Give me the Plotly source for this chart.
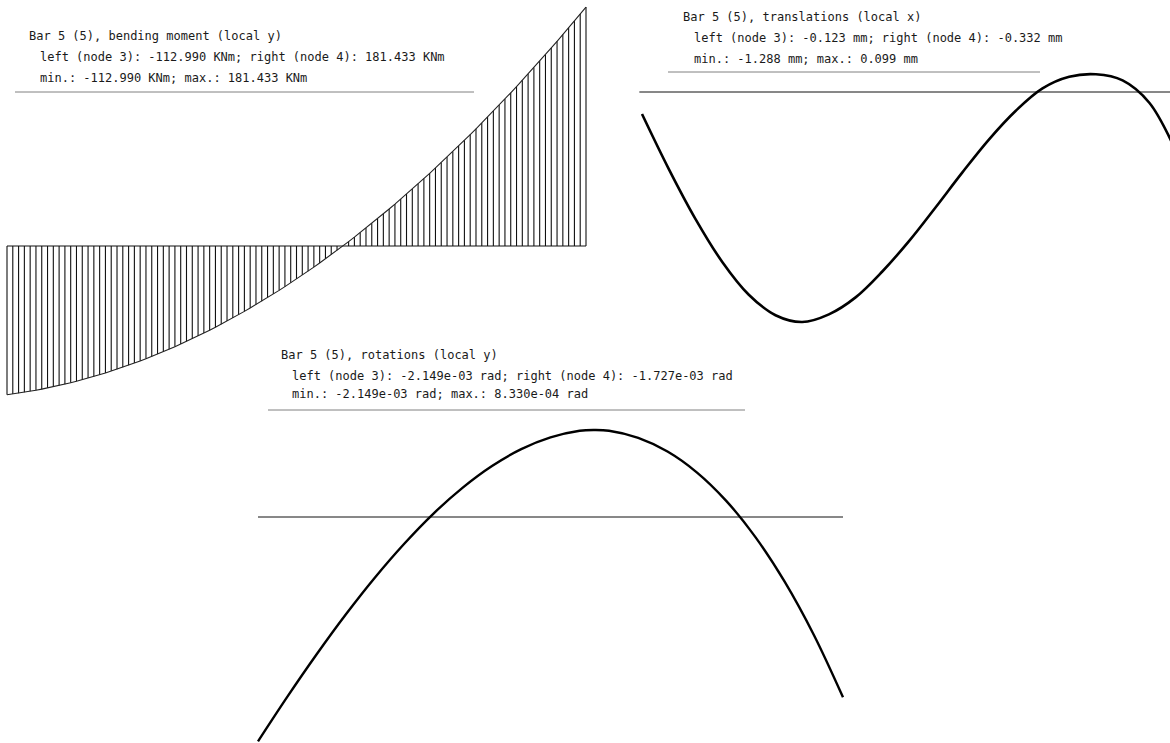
import plotly.graph_objects as go

W, H = 1170, 743

# ---- Bar 5: bending moment (local y), KNm at 101 equally spaced stations ----
moment_stations = [i / 100 for i in range(101)]
moment_values = [
    -112.99, -112.39, -111.75, -111.06, -110.32, -109.53, -108.70, -107.82, -106.89, -105.91,
    -104.89, -103.82, -102.70, -101.53, -100.32, -99.06, -97.75, -96.40, -94.99, -93.54,
    -92.05, -90.50, -88.91, -87.27, -85.58, -83.85, -82.06, -80.23, -78.36, -76.43,
    -74.46, -72.44, -70.37, -68.26, -66.10, -63.89, -61.63, -59.33, -56.98, -54.58,
    -52.13, -49.64, -47.10, -44.51, -41.87, -39.19, -36.46, -33.68, -30.85, -27.98,
    -25.06, -22.09, -19.08, -16.01, -12.90, -9.75, -6.54, -3.29, 0.01, 3.36,
    6.75, 10.20, 13.69, 17.22, 20.81, 24.44, 28.12, 31.84, 35.62, 39.44,
    43.31, 47.23, 51.19, 55.20, 59.26, 63.37, 67.52, 71.72, 75.97, 80.26,
    84.61, 89.00, 93.44, 97.92, 102.45, 107.03, 111.66, 116.34, 121.06, 125.83,
    130.65, 135.51, 140.43, 145.38, 150.39, 155.45, 160.55, 165.70, 170.90, 176.14,
    181.433,
]

# ---- Bar 5: translations (local x), mm ----
transl_stations = [i / 20 for i in range(21)]
transl_values = [
    -0.123, -0.43, -0.71, -0.95, -1.135, -1.25, -1.288, -1.245, -1.15, -1.005,
    -0.835, -0.645, -0.45, -0.265, -0.105, 0.02, 0.085, 0.099, 0.065, -0.06,
    -0.332,
]

# ---- Bar 5: rotations (local y), 1e-3 rad ----
rot_stations = [0.0, 0.05, 0.1, 0.15, 0.2, 0.25, 0.3, 0.35, 0.4, 0.45, 0.5,
                0.55, 0.575, 0.6, 0.65, 0.7, 0.75, 0.8, 0.85, 0.9, 0.95, 1.0]
rot_values = [-2.149, -1.723, -1.317, -0.934, -0.579, -0.256, 0.033, 0.282,
              0.489, 0.650, 0.762, 0.826, 0.833, 0.826, 0.758, 0.627, 0.428,
              0.157, -0.190, -0.617, -1.128, -1.727]

titles = {
    "moment": ["Bar 5 (5), bending moment (local y)",
               "left (node 3): -112.990 KNm; right (node 4): 181.433 KNm",
               "min.: -112.990 KNm; max.: 181.433 KNm"],
    "transl": ["Bar 5 (5), translations (local x)",
               "left (node 3): -0.123 mm; right (node 4): -0.332 mm",
               "min.: -1.288 mm; max.: 0.099 mm"],
    "rot": ["Bar 5 (5), rotations (local y)",
            "left (node 3): -2.149e-03 rad; right (node 4): -1.727e-03 rad",
            "min.: -2.149e-03 rad; max.: 8.330e-04 rad"],
}

# ---- panel placement on the page (pixels) ----
# x0, x1: bar ends; y0: zero line; k: pixels per unit
panels = {
    "moment": dict(x0=7, x1=586, y0=246, k=1.317),
    "transl": dict(x0=642, x1=1176, y0=92, k=178.6),
    "rot": dict(x0=258, x1=843, y0=517, k=104.4),
}
# header text: left x of first line, left x of other lines, line centres, underline
headers = {
    "moment": dict(x1=27, x2=38, ys=(36, 57, 78), uy=92, ux=(15, 474)),
    "transl": dict(x1=681, x2=692, ys=(17, 38, 59), uy=72, ux=(668, 1040)),
    "rot": dict(x1=279, x2=290, ys=(355, 376, 394), uy=410, ux=(268, 745)),
}


def x_range(p):
    span = (p["x1"] - p["x0"])
    return [-p["x0"] / span, (W - p["x0"]) / span]


def y_range(p):
    return [-(H - p["y0"]) / p["k"], p["y0"] / p["k"]]


fig = go.Figure()
axis_ids = {"moment": ("x", "y"), "transl": ("x2", "y2"), "rot": ("x3", "y3")}

# hatching of the moment diagram
hx, hy = [], []
for s, m in zip(moment_stations, moment_values):
    hx += [s, s, None]
    hy += [0, m, None]
fig.add_trace(go.Scatter(x=hx, y=hy, mode="lines", xaxis="x", yaxis="y",
                         line=dict(color="#111111", width=1.1), hoverinfo="skip"))
fig.add_trace(go.Scatter(x=moment_stations, y=moment_values, mode="lines",
                         xaxis="x", yaxis="y",
                         line=dict(color="#222222", width=1.1), hoverinfo="skip"))

fig.add_trace(go.Scatter(x=transl_stations, y=transl_values, mode="lines",
                         xaxis="x2", yaxis="y2",
                         line=dict(color="black", width=2.6, shape="spline", smoothing=1.0),
                         hoverinfo="skip"))
fig.add_trace(go.Scatter(x=rot_stations, y=rot_values, mode="lines",
                         xaxis="x3", yaxis="y3",
                         line=dict(color="black", width=2.4, shape="spline", smoothing=1.0),
                         hoverinfo="skip"))

# zero lines of each diagram
zero_ext = {"moment": (0, 1), "transl": (-0.005, 1.2), "rot": (0, 1)}
for name, (xa, ya) in axis_ids.items():
    a, b = zero_ext[name]
    fig.add_shape(type="line", xref=xa, yref=ya, x0=a, x1=b, y0=0, y1=0,
                  line=dict(color="#111111", width=1), layer="below")

# header texts and separators
font = dict(family="DejaVu Sans Mono", size=12, color="#1a1a1a")
annotations = []
for name, h in headers.items():
    lines = titles[name]
    for i, (txt, yy) in enumerate(zip(lines, h["ys"])):
        xx = h["x1"] if i == 0 else h["x2"]
        annotations.append(dict(text=txt, x=xx / W, y=1 - yy / H, xref="paper", yref="paper",
                                xanchor="left", yanchor="middle", showarrow=False, font=font))
    fig.add_shape(type="line", xref="paper", yref="paper",
                  x0=h["ux"][0] / W, x1=h["ux"][1] / W, y0=1 - h["uy"] / H, y1=1 - h["uy"] / H,
                  line=dict(color="#808080", width=1))

hidden = dict(visible=False, showgrid=False, zeroline=False, fixedrange=True)
layout_axes = {}
for name, (xa, ya) in axis_ids.items():
    p = panels[name]
    xk = "xaxis" if xa == "x" else "xaxis" + xa[1:]
    yk = "yaxis" if ya == "y" else "yaxis" + ya[1:]
    layout_axes[xk] = dict(hidden, range=x_range(p), domain=[0, 1], anchor=ya,
                           **({} if xa == "x" else {"overlaying": "x"}))
    layout_axes[yk] = dict(hidden, range=y_range(p), domain=[0, 1], anchor=xa,
                           **({} if ya == "y" else {"overlaying": "y"}))

fig.update_layout(
    width=W, height=H,
    margin=dict(l=0, r=0, t=0, b=0),
    paper_bgcolor="white", plot_bgcolor="white",
    showlegend=False,
    annotations=annotations,
    **layout_axes,
)

fig.write_html("out.html", config={"displayModeBar": False, "staticPlot": True})
